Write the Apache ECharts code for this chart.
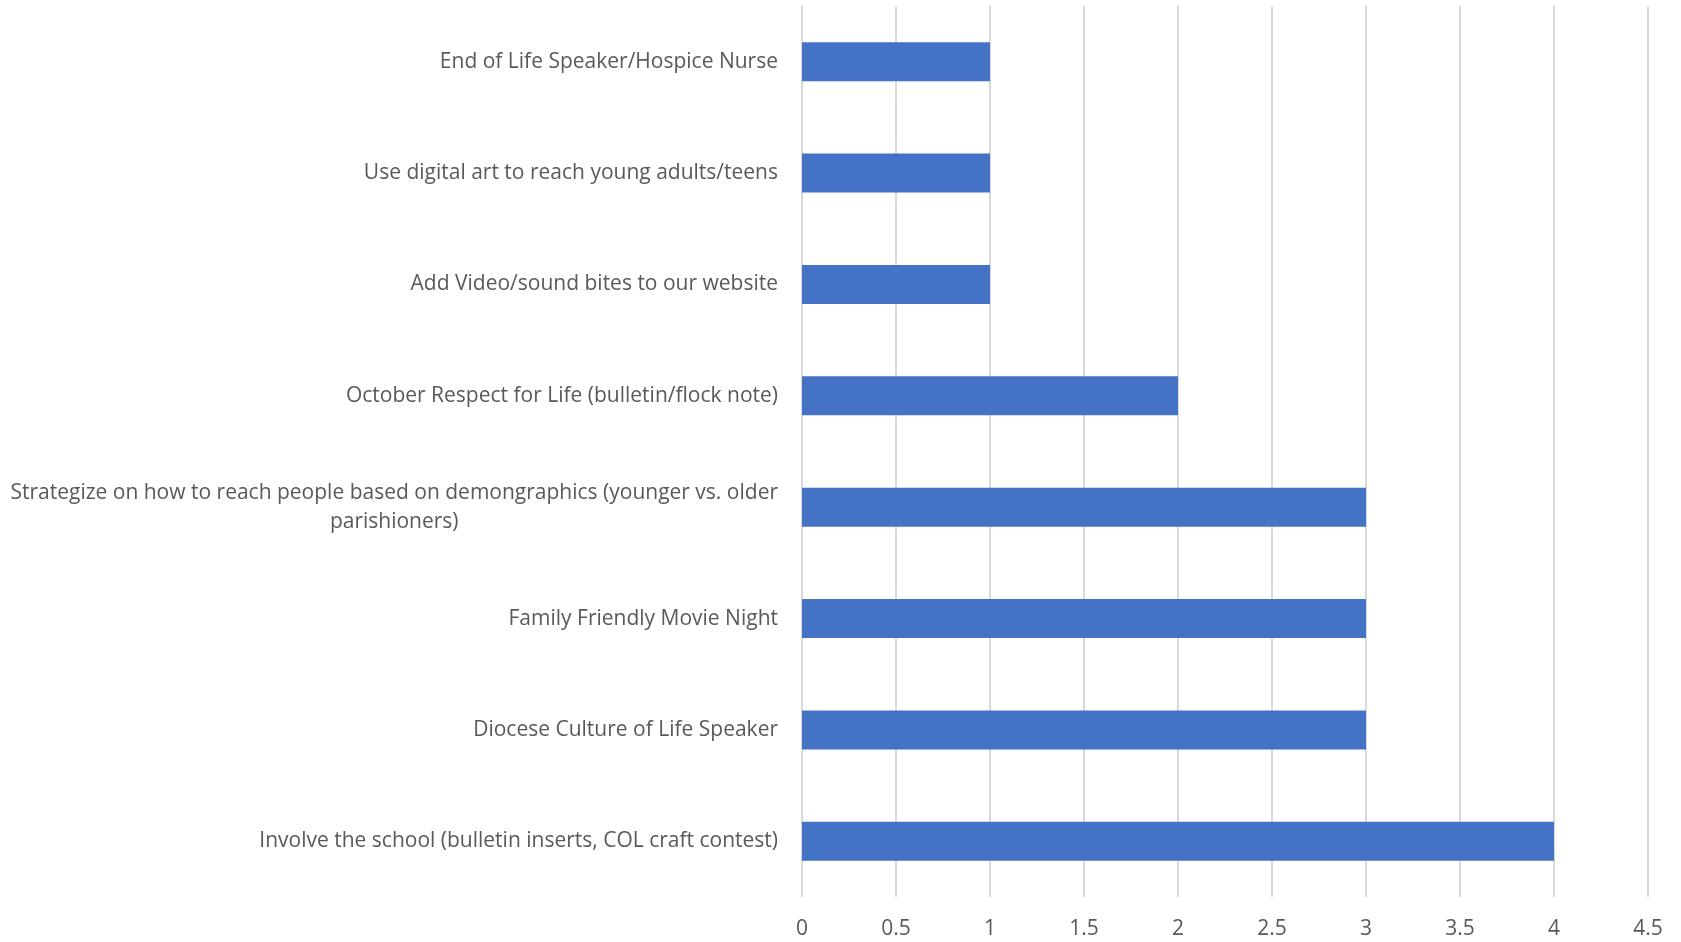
<!DOCTYPE html>
<html><head><meta charset="utf-8">
<script src="https://cdn.jsdelivr.net/npm/echarts@6/dist/echarts.min.js"></script>
<style>html,body{margin:0;padding:0;background:#fff}#c{width:1681px;height:942px}</style>
</head><body><div id="c"></div>
<script>
const categories = [
  "Involve the school (bulletin inserts, COL craft contest)",
  "Diocese Culture of Life Speaker",
  "Family Friendly Movie Night",
  "Strategize on how to reach people based on demongraphics (younger vs. older\nparishioners)",
  "October Respect for Life (bulletin/flock note)",
  "Add Video/sound bites to our website",
  "Use digital art to reach young adults/teens",
  "End of Life Speaker/Hospice Nurse"
];
const values = [4, 3, 3, 3, 2, 1, 1, 1];
const xTicks = [0, 0.5, 1, 1.5, 2, 2.5, 3, 3.5, 4, 4.5];

const FONT = "'Open Sans', 'Noto Sans', sans-serif";
const chart = echarts.init(document.getElementById('c'));
chart.setOption({
  animation: false,
  grid: { left: 802, right: 33, top: 6, bottom: 45, containLabel: false },
  xAxis: {
    type: 'value', min: xTicks[0], max: xTicks[xTicks.length-1], interval: 0.5,
    axisLine: { show: false }, axisTick: { show: false },
    splitLine: { show: true, lineStyle: { color: '#d9d9d9', width: 2 } },
    axisLabel: { color: '#595959', fontSize: 21, fontFamily: FONT, margin: 22,
      formatter: v => String(v) }
  },
  yAxis: {
    type: 'category', data: categories,
    axisLine: { show: false }, axisTick: { show: false },
    axisLabel: { color: '#595959', fontSize: 21, fontFamily: FONT, margin: 24,
      formatter: v => v.split('\n').map(s => '{a|' + s + '}').join('\n'),
      rich: { a: { align: 'center', fontSize: 21, fontFamily: FONT, color: '#595959', lineHeight: 29 } }
    }
  },
  series: [{
    type: 'bar', data: values, barWidth: '35%',
    itemStyle: { color: '#4472C4' }
  }]
});
</script></body></html>
